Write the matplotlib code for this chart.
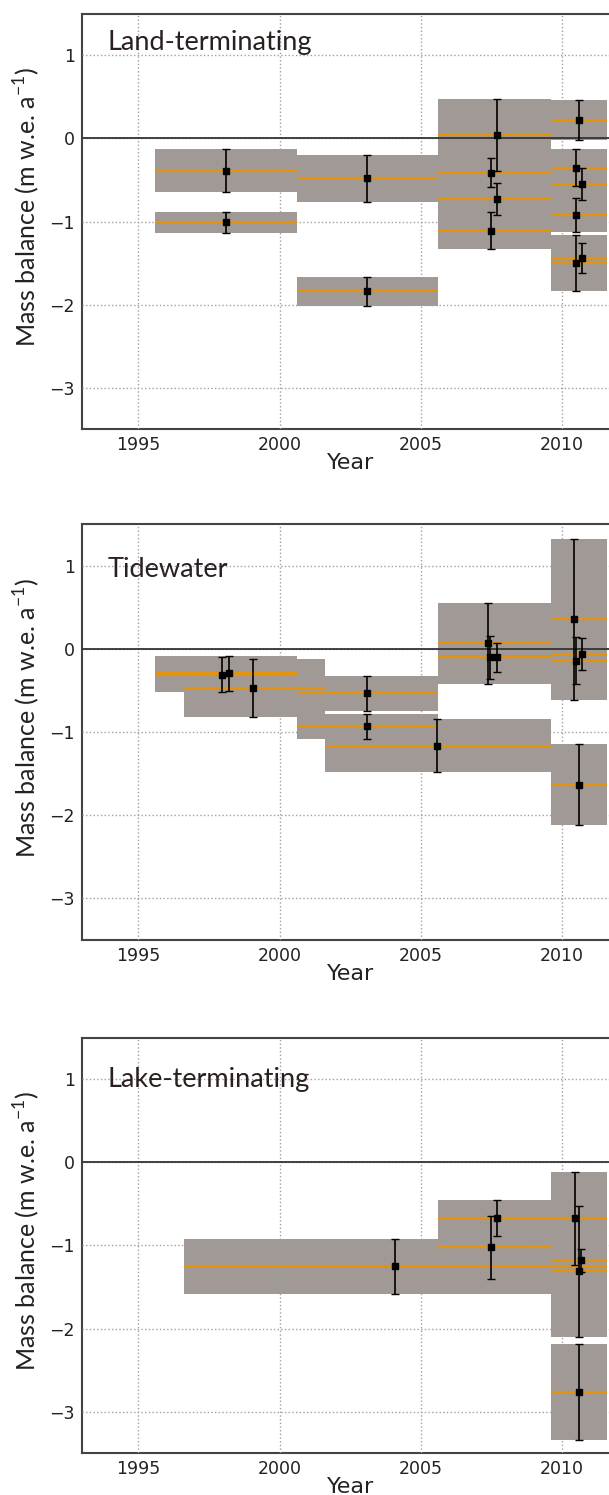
import numpy as np
import matplotlib
matplotlib.use('Agg')
import matplotlib.pyplot as plt

# land-terminating glaciers
land_start = [1995.6, 1995.6, 2000.6, 2000.6, 2005.6, 2005.6, 2005.6, 2005.6,
              2009.6, 2009.6, 2009.6, 2009.6, 2009.6, 2009.6]
land_end = [2000.6, 2000.6, 2005.6, 2005.6, 2009.6, 2009.6, 2009.6, 2009.6,
            2011.6, 2011.6, 2011.6, 2011.6, 2011.6, 2011.6]
land_mb = [-0.39, -1.01, -0.48, -1.84, 0.04, -0.41, -0.73, -1.11,
           0.22, -0.35, -0.55, -0.92, -1.50, -1.44]
land_err = [0.26, 0.13, 0.28, 0.17, 0.43, 0.17, 0.19, 0.22,
            0.24, 0.22, 0.19, 0.20, 0.34, 0.18]
land_x = [1998.1, 1998.1, 2003.1, 2003.1, 2007.68, 2007.49, 2007.68, 2007.49,
          2010.58, 2010.49, 2010.69, 2010.49, 2010.49, 2010.69]

# tidewater glaciers
tide_start = [1995.6, 1995.6, 1996.6, 2000.6, 2000.6, 2001.6, 2005.6, 2005.6, 2005.6,
              2009.6, 2009.6, 2009.6, 2009.6]
tide_end = [2000.6, 2000.6, 2001.6, 2005.6, 2005.6, 2009.6, 2009.6, 2009.6, 2009.6,
            2011.6, 2011.6, 2011.6, 2011.6]
tide_mb = [-0.31, -0.29, -0.47, -0.53, -0.93, -1.16, 0.07, -0.10, -0.10,
           0.36, -0.14, -0.06, -1.63]
tide_err = [0.21, 0.21, 0.35, 0.21, 0.155, 0.32, 0.49, 0.26, 0.17,
            0.97, 0.28, 0.19, 0.49]
tide_x = [1997.97, 1998.19, 1999.07, 2003.09, 2003.09, 2005.58, 2007.38, 2007.46, 2007.68,
          2010.42, 2010.49, 2010.69, 2010.58]

# lake-terminating glaciers
lake_start = [1996.6, 2005.6, 2005.6, 2009.6, 2009.6, 2009.6, 2009.6]
lake_end = [2011.6, 2009.6, 2009.6, 2011.6, 2011.6, 2011.6, 2011.6]
lake_mb = [-1.25, -0.67, -1.02, -0.67, -1.18, -1.31, -2.76]
lake_err = [0.33, 0.22, 0.38, 0.56, 0.14, 0.79, 0.58]
lake_x = [2004.07, 2007.68, 2007.49, 2010.44, 2010.68, 2010.58, 2010.58]

panels = [
    ('Land-terminating', 1.06, land_start, land_end, land_mb, land_err, land_x),
    ('Tidewater', 0.87, tide_start, tide_end, tide_mb, tide_err, tide_x),
    ('Lake-terminating', 0.91, lake_start, lake_end, lake_mb, lake_err, lake_x),
]
bottoms = [0.7128, 0.3712, 0.0279]

box_col = '#a09995'
orange = '#e3930e'

fig = plt.figure(figsize=(6.09, 14.95), dpi=100)

for (name, ytxt, s, e, mb, err, xp), b in zip(panels, bottoms):
    ax = fig.add_axes([0.1346, b, 0.8814, 0.278])
    s = np.array(s); e = np.array(e); mb = np.array(mb); err = np.array(err)
    # grey box = period x error range, orange = period mean
    ax.bar(s, 2 * err, width=e - s, bottom=mb - err, align='edge',
           color=box_col, edgecolor='none', zorder=1)
    ax.hlines(mb, s, e, color=orange, lw=1.6, zorder=4)
    ax.axhline(0, color='#333333', lw=1.3, zorder=3)
    ax.errorbar(xp, mb, yerr=err, fmt='s', color='black', ms=3.8,
                elinewidth=1.2, capsize=3, capthick=1, zorder=5)
    ax.set_xlim(1993, 2012)
    ax.set_ylim(-3.5, 1.5)
    ax.set_xticks([1995, 2000, 2005, 2010])
    ax.set_yticks([-3, -2, -1, 0, 1])
    ax.set_yticklabels(['\u22123', '\u22122', '\u22121', '0', '1'])
    ax.set_axisbelow(False)
    ax.grid(True, ls=':', color='#a0a0a0', lw=1)
    ax.tick_params(length=0, labelsize=12.5, colors='#222222', pad=5)
    for sp in ax.spines.values():
        sp.set_color('#444444')
        sp.set_linewidth(1.5)
    ax.set_xlabel('Year', fontsize=16, color='#222222', labelpad=-1)
    ax.set_ylabel('Mass balance (m w.e. a$^{\\mathregular{-1}}$)', fontsize=18,
                  family='Lato', color='#222222')
    ax.yaxis.set_label_coords(-0.075, 0.535)
    ax.text(1993.9, ytxt, name, fontsize=19.5, family='Lato', color='#2b2020',
            va='baseline', ha='left', zorder=6)

fig.savefig('out.png', dpi=100)
